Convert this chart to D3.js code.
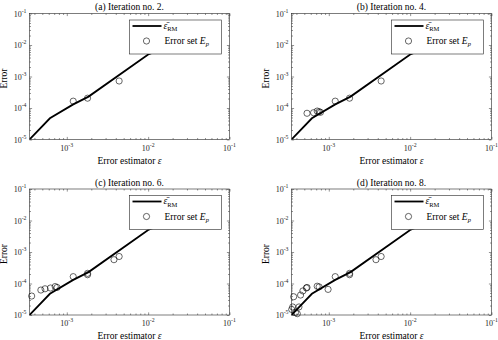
<!DOCTYPE html>
<html>
<head>
<meta charset="utf-8">
<script src="https://cdn.jsdelivr.net/npm/d3@7"></script>
<style>
body { margin: 0; background: #fff; }
text { font-family: "Liberation Serif", "DejaVu Serif", serif; }
</style>
</head>
<body>
<svg width="498" height="340"></svg>
<script>
// error bound of the reduced model (same curve in every panel)
var curveX = [3.48e-4, 6.2e-4, 1.2e-3, 1.85e-3, 1e-2, 5e-2];
var curveY = [1e-5, 4.7e-5, 1.3e-4, 2.3e-4, 5e-3, 2.5e-2];

// error set E_p after each iteration  [estimator, error]
var setA = [[1.2e-3,1.65e-4],[1.8e-3,2.05e-4],[4.4e-3,7.2e-4]];
var setB = [[5.4e-4,6.8e-5],[6.5e-4,7.1e-5],[7.2e-4,8.0e-5],[7.6e-4,7.6e-5],[7.9e-4,7.3e-5],
            [1.2e-3,1.65e-4],[1.8e-3,2.05e-4],[4.4e-3,7.2e-4]];
var setC = [[3.7e-4,4.0e-5],[4.8e-4,6.2e-5],[5.4e-4,6.8e-5],[6.3e-4,7.2e-5],[7.2e-4,8.0e-5],[7.6e-4,7.5e-5],
            [1.2e-3,1.65e-4],[1.8e-3,2.1e-4],[1.8e-3,1.9e-4],[3.8e-3,5.7e-4],[4.4e-3,7.2e-4]];
var setD = [[3.5e-4,1.5e-5],[3.6e-4,1.8e-5],[3.7e-4,3.8e-5],[3.9e-4,1.2e-5],[4.1e-4,1.1e-5],[4.3e-4,1.8e-5],
            [4.5e-4,4.3e-5],[4.8e-4,5.8e-5],[5.3e-4,7.2e-5],[5.4e-4,7.5e-5],[7.2e-4,8.2e-5],[7.6e-4,7.8e-5],
            [9.8e-4,6.5e-5],[1.2e-3,1.65e-4],[1.8e-3,2.1e-4],[1.8e-3,1.9e-4],[3.8e-3,5.7e-4],[4.4e-3,7.2e-4]];

var titles = ["(a) Iteration no. 2.", "(b) Iteration no. 4.", "(c) Iteration no. 6.", "(d) Iteration no. 8."];
var sets = [setA, setB, setC, setD];
var xTicks = [1e-3, 1e-2, 1e-1];
var yTicks = [1e-5, 1e-4, 1e-3, 1e-2, 1e-1];
var xDomain = [3.48e-4, 1e-1];
var yDomain = [1e-5, 1e-1];

var W = 200, H = 126;
var origins = [[29.5, 13.5], [291.5, 13.5], [29.5, 189], [291.5, 189]];
var axisColor = "#262626";

var svg = d3.select("svg");

function minors(lo, hi) {
  var out = [];
  for (var e = -6; e <= 0; e++)
    for (var m = 2; m <= 9; m++) {
      var v = m * Math.pow(10, e);
      if (v > lo * 1.0001 && v < hi * 0.9999) out.push(v);
    }
  return out;
}

function expLabel(sel, v) {
  sel.append("tspan").attr("font-size", 8).text("10");
  sel.append("tspan").attr("font-size", 5.8).attr("dy", -3.7).text(Math.round(Math.log10(v)));
}

function styleAxis(g) {
  g.select(".domain").remove();
  g.selectAll("line").attr("stroke", axisColor).attr("stroke-width", 0.5);
}

sets.forEach(function (pts, i) {
  var g = svg.append("g").attr("transform", "translate(" + origins[i][0] + "," + origins[i][1] + ")");

  var x = d3.scaleLog().domain(xDomain).range([0, W]);
  var y = d3.scaleLog().domain(yDomain).range([H, 0]);

  g.append("clipPath").attr("id", "clip" + i)
    .append("rect").attr("width", W).attr("height", H);

  // ticks on all four sides, pointing inward
  [[d3.axisBottom(x), "translate(0," + H + ")", xTicks, minors(xDomain[0], xDomain[1])],
   [d3.axisTop(x), null, xTicks, minors(xDomain[0], xDomain[1])],
   [d3.axisLeft(y), null, yTicks, minors(yDomain[0], yDomain[1])],
   [d3.axisRight(y), "translate(" + W + ",0)", yTicks, minors(yDomain[0], yDomain[1])]
  ].forEach(function (a) {
    var major = g.append("g").call(a[0].tickValues(a[2]).tickSizeInner(-2.6).tickSizeOuter(0).tickFormat(""));
    if (a[1]) major.attr("transform", a[1]);
    styleAxis(major);
    var minor = g.append("g").call(a[0].tickValues(a[3]).tickSizeInner(-1.5).tickSizeOuter(0).tickFormat(""));
    if (a[1]) minor.attr("transform", a[1]);
    styleAxis(minor);
  });

  g.append("rect").attr("width", W).attr("height", H)
    .attr("fill", "none").attr("stroke", axisColor).attr("stroke-width", 0.6);

  // tick labels
  xTicks.forEach(function (v) {
    g.append("text").attr("x", x(v)).attr("y", H + 11)
      .attr("text-anchor", "middle").attr("fill", axisColor)
      .call(expLabel, v);
  });
  yTicks.forEach(function (v) {
    g.append("text").attr("x", -3).attr("y", y(v) + 3)
      .attr("text-anchor", "end").attr("fill", axisColor)
      .call(expLabel, v);
  });

  var line = d3.line().x(function (d) { return x(d[0]); }).y(function (d) { return y(d[1]); });
  g.append("path")
    .datum(d3.zip(curveX, curveY))
    .attr("clip-path", "url(#clip" + i + ")")
    .attr("d", line)
    .attr("fill", "none").attr("stroke", "#000").attr("stroke-width", 1.8);

  g.selectAll("circle.pt").data(pts).enter().append("circle")
    .attr("class", "pt")
    .attr("cx", function (d) { return x(d[0]); })
    .attr("cy", function (d) { return y(d[1]); })
    .attr("r", 3.1)
    .attr("fill", "none").attr("stroke", "#000").attr("stroke-width", 0.6);

  // title and axis labels
  g.append("text").attr("x", W / 2).attr("y", -3.5).attr("text-anchor", "middle")
    .attr("font-size", 9.5).text(titles[i]);

  var xl = g.append("text").attr("x", W / 2).attr("y", H + 24).attr("text-anchor", "middle").attr("font-size", 9.5);
  xl.append("tspan").text("Error estimator ");
  xl.append("tspan").attr("font-style", "italic").text("ε");

  g.append("text").attr("transform", "translate(-23," + (H / 2 + 2) + ") rotate(-90)")
    .attr("text-anchor", "middle").attr("font-size", 9.5).text("Error");

  // legend
  var lg = g.append("g").attr("transform", "translate(" + (W - 100) + ",6.5)");
  lg.append("rect").attr("width", 92).attr("height", 34)
    .attr("fill", "#fff").attr("stroke", axisColor).attr("stroke-width", 0.6);
  lg.append("line").attr("x1", 3).attr("x2", 32).attr("y1", 6).attr("y2", 6)
    .attr("stroke", "#000").attr("stroke-width", 1.8);
  var t1 = lg.append("text").attr("x", 34).attr("y", 8.5).attr("font-size", 9.5);
  t1.append("tspan").attr("font-style", "italic").text("ε\u0304");
  t1.append("tspan").attr("font-size", 6.5).attr("dy", 2.5).text("RM");
  lg.append("circle").attr("cx", 17).attr("cy", 21).attr("r", 3.1)
    .attr("fill", "none").attr("stroke", "#000").attr("stroke-width", 0.6);
  var t2 = lg.append("text").attr("x", 35).attr("y", 24).attr("font-size", 9.5);
  t2.append("tspan").text("Error set ");
  t2.append("tspan").attr("font-style", "italic").text("E");
  t2.append("tspan").attr("font-style", "italic").attr("font-size", 6.5).attr("dy", 2).text("p");
});
</script>
</body>
</html>
